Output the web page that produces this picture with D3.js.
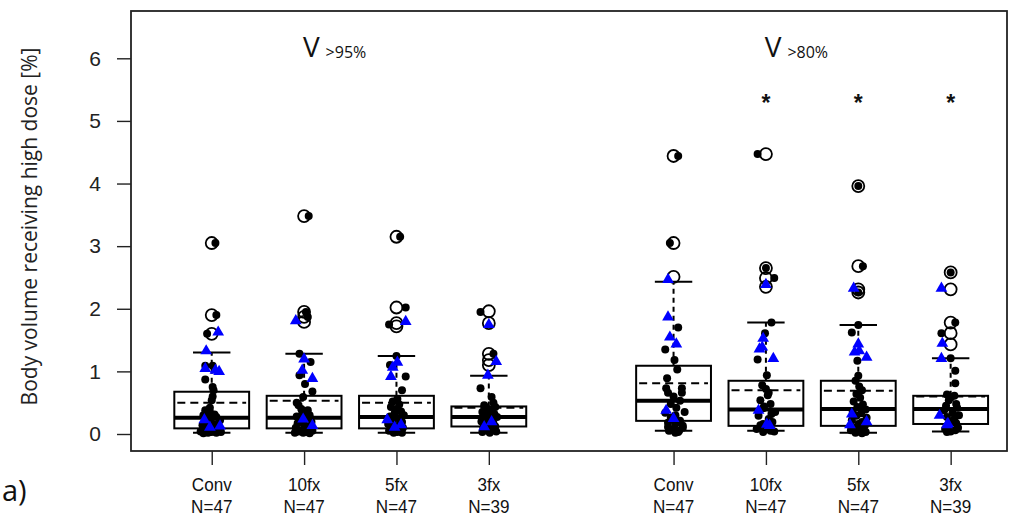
<!DOCTYPE html>
<html>
<head>
<meta charset="utf-8">
<script src="https://cdn.jsdelivr.net/npm/d3@7"></script>
<style>
  body { margin: 0; background: #fff; }
  svg { display: block; }
</style>
</head>
<body>
<svg id="chart"></svg>
<script>
"use strict";

// ---- data ----
const categories = ["Conv", "10fx", "5fx", "3fx", "Conv", "10fx", "5fx", "3fx"];
const counts     = [47, 47, 47, 39, 47, 47, 47, 39];
const positions  = [1, 2, 3, 4, 6, 7, 8, 9];

const q1      = [0.09, 0.09, 0.09, 0.12, 0.21, 0.13, 0.13, 0.16];
const medians = [0.26, 0.26, 0.27, 0.27, 0.53, 0.39, 0.40, 0.40];
const q3      = [0.675, 0.61, 0.61, 0.44, 1.09, 0.85, 0.85, 0.61];
const means   = [0.50, 0.53, 0.50, 0.42, 0.81, 0.70, 0.69, 0.60];
const whiskHi = [1.30, 1.28, 1.245, 0.93, 2.43, 1.78, 1.74, 1.21];
const whiskLo = [0.02, 0.02, 0.02, 0.02, 0.05, 0.05, 0.02, 0.04];

const outliers = [
  [3.05, 1.90, 1.60],
  [3.48, 1.95, 1.87, 1.79],
  [3.15, 2.02, 1.77, 1.72],
  [1.96, 1.77, 1.28, 1.18, 1.10],
  [4.44, 3.05, 2.51],
  [4.47, 2.65, 2.49, 2.35],
  [3.96, 2.68, 2.31, 2.26],
  [2.58, 2.31, 1.78, 1.61, 1.43]
];

// jittered patients: [value, jitter (in category units)]
const dots = [
  [[3.05,.04],[1.90,.05],[1.60,-.05],[1.09,-.07],[1.09,.01],[0.87,-.07],[0.75,.01],[0.70,.02],[0.60,.01],[0.54,0],
   [0.42,-.02],[0.38,-.07],[0.35,-.02],[0.31,.03],[0.30,-.09],[0.27,.05],[0.25,-.04],[0.22,.09],[0.20,-.01],[0.18,-.06],
   [0.15,.03],[0.14,-.10],[0.12,.06],[0.10,-.03],[0.09,.08],[0.07,-.07],[0.05,.02],[0.04,-.12],[0.03,.10],[0.02,-.04],
   [0.02,.05],[0.01,-.09],[0.03,0]],
  [[3.48,.05],[1.95,.02],[1.87,.04],[1.28,-.05],[1.15,.07],[0.94,-.05],[0.80,.01],[0.68,.09],[0.59,-.01],[0.50,-.08],
   [0.46,-.06],[0.40,-.03],[0.38,.04],[0.33,-.02],[0.30,.06],[0.28,-.08],[0.25,.02],[0.22,-.04],[0.19,.08],[0.17,-.07],
   [0.15,0],[0.12,.05],[0.10,-.09],[0.08,.03],[0.06,-.03],[0.05,.09],[0.04,-.06],[0.03,.02],[0.02,-.01],[0.01,.06],[0.02,-.10]],
  [[3.15,.04],[2.02,.10],[1.75,-.08],[1.245,0],[1.10,-.07],[0.92,.10],[0.70,.06],[0.56,.01],[0.52,-.04],[0.47,.03],
   [0.43,-.06],[0.40,0],[0.36,.05],[0.33,-.02],[0.30,.08],[0.28,-.07],[0.25,.02],[0.22,-.04],[0.19,.06],[0.16,-.09],
   [0.14,.03],[0.12,-.01],[0.10,.07],[0.08,-.05],[0.06,.04],[0.05,-.08],[0.03,.01],[0.02,.06],[0.02,-.03]],
  [[1.95,-.09],[1.28,.05],[0.73,-.09],[0.59,.03],[0.50,.05],[0.46,-.05],[0.43,.07],[0.40,-.02],[0.37,.03],[0.35,-.07],
   [0.32,.06],[0.30,-.01],[0.27,.09],[0.25,-.05],[0.22,.02],[0.20,-.08],[0.17,.05],[0.15,-.02],[0.12,.07],[0.10,-.06],
   [0.08,.03],[0.06,-.03],[0.04,.08],[0.03,-.07],[0.02,.01]],
  [[4.44,.05],[3.05,-.04],[1.70,.05],[1.35,-.09],[1.18,.01],[1.03,.04],[0.89,-.07],[0.73,-.08],[0.73,.09],[0.66,.09],
   [0.66,-.06],[0.60,0],[0.53,.07],[0.48,-.03],[0.42,.03],[0.35,.12],[0.34,-.09],[0.30,.02],[0.26,-.03],[0.21,.07],
   [0.18,-.06],[0.16,.02],[0.13,.10],[0.11,-.06],[0.10,.10],[0.08,0],[0.06,-.03],[0.05,.06],[0.03,.05],[0.05,-.05],[0.02,.02]],
  [[4.47,-.09],[2.65,0],[2.49,.09],[1.78,.06],[1.61,-.01],[1.19,-.09],[0.94,.01],[0.78,-.04],[0.72,0],[0.66,.03],
   [0.62,.02],[0.54,-.06],[0.48,.05],[0.44,-.02],[0.41,-.03],[0.35,.10],[0.32,.06],[0.29,-.08],[0.24,.03],[0.19,.07],
   [0.16,-.03],[0.14,-.06],[0.10,.01],[0.08,-.10],[0.06,.06],[0.05,.05],[0.03,-.03],[0.04,.09]],
  [[3.96,0],[2.68,.05],[2.26,0],[1.74,0],[1.62,-.07],[1.17,-.01],[0.93,0],[0.85,-.03],[0.76,.01],[0.70,.04],
   [0.64,-.02],[0.58,.02],[0.52,-.05],[0.47,.05],[0.43,-.01],[0.39,.08],[0.36,-.06],[0.33,.03],[0.29,-.02],[0.26,.09],
   [0.22,-.07],[0.19,.04],[0.16,0],[0.13,.07],[0.10,-.03],[0.08,.05],[0.06,-.08],[0.04,.02],[0.03,.08],[0.02,-.03],[0.01,.04]],
  [[2.58,0],[1.78,.05],[1.61,-.10],[1.21,0],[1.01,.05],[0.81,.05],[0.63,-.04],[0.61,.04],[0.58,0],[0.54,-.02],
   [0.48,.06],[0.45,-.05],[0.42,.07],[0.38,-.07],[0.34,.02],[0.30,.09],[0.27,-.04],[0.24,.04],[0.20,-.01],[0.17,.06],
   [0.13,-.02],[0.10,.08],[0.08,-.06],[0.06,.05],[0.04,0],[0.03,-.04]]
];

const triangles = [
  [[1.61,.07],[1.31,-.06],[1.03,-.07],[1.00,.04],[0.98,.08],[0.21,-.08],[0.09,-.02],[0.11,.09]],
  [[1.79,-.09],[1.18,0],[1.00,-.02],[0.87,.09],[0.22,-.01],[0.12,.09]],
  [[1.78,.10],[1.13,.01],[1.05,-.04],[0.90,-.06],[0.21,-.10],[0.09,-.02],[0.13,.05]],
  [[1.73,0],[1.14,.08],[0.92,-.01],[0.18,.03],[0.10,-.05]],
  [[2.45,-.06],[1.85,-.06],[1.53,-.04],[1.42,.03],[0.36,-.08],[0.23,0]],
  [[2.37,0],[1.51,-.03],[1.37,-.04],[1.34,-.07],[1.19,.08],[0.36,-.08],[0.14,.01],[0.12,.04]],
  [[2.31,-.05],[1.42,0],[1.29,-.04],[1.31,.01],[1.21,.09],[0.30,-.07],[0.13,-.09],[0.18,.09]],
  [[2.31,-.10],[1.43,-.09],[1.19,-.10],[0.28,-.12],[0.13,-.04],[0.15,-.03]]
];

const starGroups = [5, 6, 7];     // indexes marked with *
const starValue  = 5.35;
const yTicks     = [0, 1, 2, 3, 4, 5, 6];
const panels     = [{ sub: ">95%", at: 2.33 }, { sub: ">80%", at: 7.33 }];
const panelValue = 6.18;

// ---- layout ----
const W = 1019, H = 517;
const frame = { left: 131, right: 1007, top: 11, bottom: 451 };

const svg = d3.select("#chart").attr("width", W).attr("height", H);

const x = d3.scaleLinear().domain([0.126, 9.61]).range([frame.left, frame.right]);
const y = d3.scaleLinear().domain([0, 6]).range([434, 58.3]);
const unit = x(1) - x(0);
const boxW = 0.81 * unit;
const capW = boxW / 2;

// y axis (R style: ticks only, outward)
const yAxis = svg.append("g")
  .attr("transform", `translate(${frame.left},0)`)
  .call(d3.axisLeft(y).tickValues(yTicks).tickSize(14).tickPadding(16).tickFormat(d3.format("d")));
yAxis.select(".domain").remove();
yAxis.selectAll("line").attr("stroke", "#222").attr("stroke-width", 1.4);
yAxis.selectAll("text")
  .attr("font-family", "Liberation Sans, Arial, sans-serif")
  .attr("font-size", 21).attr("fill", "#222");

// x axis ticks + two-line labels
const xAxis = svg.append("g")
  .attr("transform", `translate(0,${frame.bottom})`)
  .call(d3.axisBottom(x).tickValues(positions).tickSize(14).tickFormat(""));
xAxis.select(".domain").remove();
xAxis.selectAll("line").attr("stroke", "#222").attr("stroke-width", 1.4);

// condensed look of the category labels (no narrow font installed)
const labs = svg.append("g")
  .attr("font-family", "Liberation Sans, Arial, sans-serif")
  .attr("font-size", 19).attr("fill", "#111").attr("text-anchor", "middle");
positions.forEach((p, i) => {
  labs.append("text").attr("transform", `translate(${x(p)},491) scale(0.9,1)`).text(categories[i]);
  labs.append("text").attr("transform", `translate(${x(p)},513) scale(0.9,1)`).text("N=" + counts[i]);
});

// boxes
const boxes = svg.append("g");
positions.forEach((p, i) => {
  const cx = x(p);
  const g = boxes.append("g").attr("stroke", "#000").attr("fill", "none");
  // whiskers
  g.append("line").attr("x1", cx).attr("x2", cx).attr("y1", y(q3[i])).attr("y2", y(whiskHi[i]))
    .attr("stroke-width", 2).attr("stroke-dasharray", "5,4");
  g.append("line").attr("x1", cx).attr("x2", cx).attr("y1", y(q1[i])).attr("y2", y(whiskLo[i]))
    .attr("stroke-width", 2).attr("stroke-dasharray", "5,4");
  g.append("line").attr("x1", cx - capW / 2).attr("x2", cx + capW / 2)
    .attr("y1", y(whiskHi[i])).attr("y2", y(whiskHi[i])).attr("stroke-width", 2);
  g.append("line").attr("x1", cx - capW / 2).attr("x2", cx + capW / 2)
    .attr("y1", y(whiskLo[i])).attr("y2", y(whiskLo[i])).attr("stroke-width", 2);
  // box
  g.append("rect").attr("x", cx - boxW / 2).attr("width", boxW)
    .attr("y", y(q3[i])).attr("height", y(q1[i]) - y(q3[i]))
    .attr("fill", "#fff").attr("stroke-width", 2);
  // mean (dashed) and median (thick)
  g.append("line").attr("x1", cx - boxW / 2 + 3).attr("x2", cx + boxW / 2 - 3)
    .attr("y1", y(means[i])).attr("y2", y(means[i]))
    .attr("stroke-width", 2).attr("stroke-dasharray", "8,5");
  g.append("line").attr("x1", cx - boxW / 2).attr("x2", cx + boxW / 2)
    .attr("y1", y(medians[i])).attr("y2", y(medians[i])).attr("stroke-width", 4);
});

// outliers (open circles)
const outG = svg.append("g");
positions.forEach((p, i) => {
  outG.selectAll(null).data(outliers[i]).join("circle")
    .attr("cx", x(p)).attr("cy", d => y(d)).attr("r", 6)
    .attr("fill", "none").attr("stroke", "#000").attr("stroke-width", 1.8);
});

// jittered points
const ptG = svg.append("g");
positions.forEach((p, i) => {
  ptG.selectAll(null).data(dots[i]).join("circle")
    .attr("cx", d => x(p + d[1])).attr("cy", d => y(d[0])).attr("r", 4)
    .attr("fill", "#000");
});
const tri = d3.symbol().type(d3.symbolTriangle).size(60);
positions.forEach((p, i) => {
  ptG.selectAll(null).data(triangles[i]).join("path")
    .attr("d", tri)
    .attr("transform", d => `translate(${x(p + d[1])},${y(d[0]) - 1})`)
    .attr("fill", "#0000ff");
});

// significance stars
svg.append("g").selectAll("text").data(starGroups).join("text")
  .attr("x", i => x(positions[i])).attr("y", y(starValue) + 12)
  .attr("text-anchor", "middle")
  .attr("font-family", "Liberation Sans, Arial, sans-serif")
  .attr("font-size", 23).attr("font-weight", "bold").attr("fill", "#111")
  .text("*");

// panel titles V>95%, V>80%
panels.forEach(pn => {
  const t = svg.append("text")
    .attr("x", x(pn.at)).attr("y", y(panelValue) + 10)
    .attr("text-anchor", "middle")
    .attr("font-family", "Open Sans, DejaVu Sans, sans-serif")
    .attr("fill", "#111");
  t.append("tspan").attr("font-size", 28).text("V");
  t.append("tspan").attr("font-size", 16).attr("dx", 6).attr("dy", 1).text(pn.sub);
});

// frame
svg.append("rect")
  .attr("x", frame.left).attr("y", frame.top)
  .attr("width", frame.right - frame.left).attr("height", frame.bottom - frame.top)
  .attr("fill", "none").attr("stroke", "#222").attr("stroke-width", 1.8);

// y title
svg.append("text")
  .attr("transform", `translate(37,${(415 + 38) / 2}) rotate(-90)`)
  .attr("text-anchor", "middle")
  .attr("font-family", "Open Sans, DejaVu Sans, sans-serif")
  .attr("font-size", 21).attr("fill", "#222")
  .text("Body volume receiving high dose [%]");

// panel tag
svg.append("text")
  .attr("x", 2).attr("y", 501)
  .attr("font-family", "Open Sans, DejaVu Sans, sans-serif")
  .attr("font-size", 29).attr("fill", "#111")
  .text("a)");
</script>
</body>
</html>
